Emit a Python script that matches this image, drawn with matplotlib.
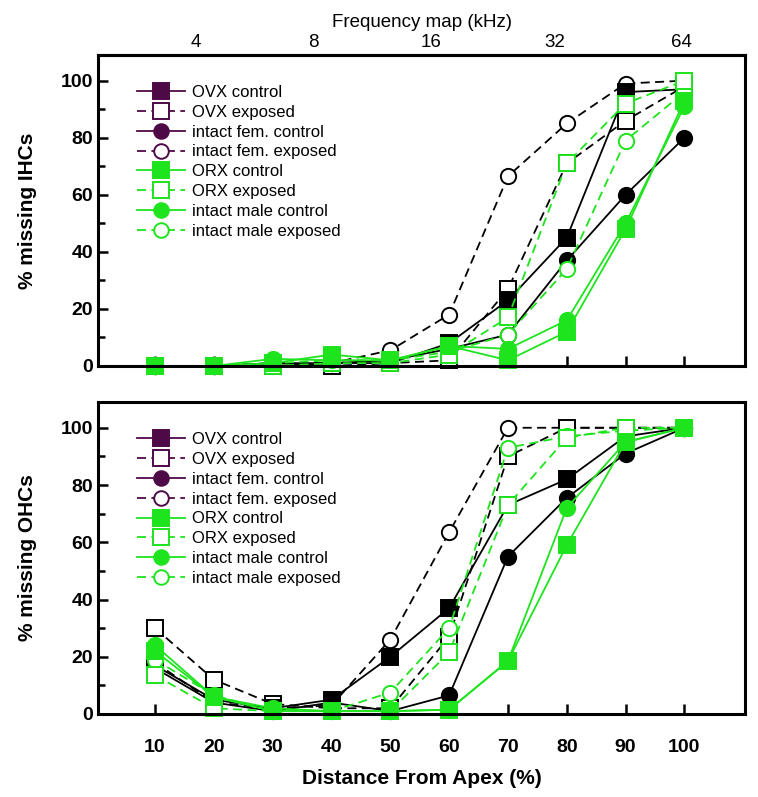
import matplotlib
matplotlib.use("Agg")
import matplotlib.pyplot as plt
from matplotlib.lines import Line2D

plt.rcParams['font.family'] = ['Liberation Sans', 'DejaVu Sans']

distance = [10, 20, 30, 40, 50, 60, 70, 80, 90, 100]
freq_labels = ['4', '8', '16', '32', '64']
freq_pos = [17, 37, 57, 78, 99.5]

series_names = ['OVX control', 'OVX exposed', 'intact fem. control', 'intact fem. exposed',
                'ORX control', 'ORX exposed', 'intact male control', 'intact male exposed']

# IHC (top panel)
ihc_ovx_control = [0, 0, 0, 1, 1, 8, 23, 45, 96, 97]
ihc_ovx_exposed = [0, 0, 0, 0, 1, 2, 27, 71, 86, 98]
ihc_fem_control = [0, 0, 1, 1, 2, 6, 11, 37, 60, 80]
ihc_fem_exposed = [0, 0, 1, 1, 5.5, 18, 66.5, 85, 99, 100]
ihc_orx_control = [0, 0, 1, 4, 2, 7, 2, 12, 48, 93]
ihc_orx_exposed = [0, 0, 0, 1, 1, 4, 17, 71, 92, 100]
ihc_male_control = [0, 0, 2.5, 2, 2, 7, 6, 16, 50, 91]
ihc_male_exposed = [0, 0, 1, 2, 2, 5, 11, 34, 79, 96]

# OHC (bottom panel)
ohc_ovx_control = [17, 5, 2, 5, 20, 37, 73, 82, 97, 100]
ohc_ovx_exposed = [30, 12, 3.5, 2, 2, 27, 90, 100, 100, 100]
ohc_fem_control = [16, 4, 1, 4, 1, 6.5, 55, 75.5, 91, 100]
ohc_fem_exposed = [18, 4, 2, 3, 26, 63.5, 100, 100, 100, 100]
ohc_orx_control = [22, 6, 1, 1, 1, 1.5, 18.5, 59, 95, 100]
ohc_orx_exposed = [13.5, 2, 1, 1, 1, 21.5, 73, 96.5, 100, 100]
ohc_male_control = [24, 6, 2, 1, 1, 1.5, 18.5, 72, 95, 100]
ohc_male_exposed = [19, 6.5, 1, 1, 7.5, 30, 93, 97, 99, 100]

ihc_data = [ihc_ovx_control, ihc_ovx_exposed, ihc_fem_control, ihc_fem_exposed,
            ihc_orx_control, ihc_orx_exposed, ihc_male_control, ihc_male_exposed]
ohc_data = [ohc_ovx_control, ohc_ovx_exposed, ohc_fem_control, ohc_fem_exposed,
            ohc_orx_control, ohc_orx_exposed, ohc_male_control, ohc_male_exposed]

BLACK = '#000000'
GREEN = '#1de41d'
PURPLE = '#4e0a46'
DASH = (0, (5, 3))

styles = [
    dict(color=BLACK, marker='s', filled=True, ls='-', z=4),
    dict(color=BLACK, marker='s', filled=False, ls=DASH, z=3.2),
    dict(color=BLACK, marker='o', filled=True, ls='-', z=3.8),
    dict(color=BLACK, marker='o', filled=False, ls=DASH, z=3.0),
    dict(color=GREEN, marker='s', filled=True, ls='-', z=5),
    dict(color=GREEN, marker='s', filled=False, ls=DASH, z=4.4),
    dict(color=GREEN, marker='o', filled=True, ls='-', z=4.8),
    dict(color=GREEN, marker='o', filled=False, ls=DASH, z=4.2),
]
legend_colors = [PURPLE, PURPLE, PURPLE, PURPLE, GREEN, GREEN, GREEN, GREEN]

W, H = 758, 797
fig = plt.figure(figsize=(W / 100, H / 100), dpi=100)
left, right = 98 / W, 745 / W
ax_top = fig.add_axes([left, 1 - 366 / H, right - left, 311 / H])
ax_bot = fig.add_axes([left, 1 - 714 / H, right - left, 312 / H])


def draw(ax, data):
    for vals, st in zip(data, styles):
        ms = 11.5 if st['marker'] == 's' else 11
        ax.plot(distance, vals, color=st['color'], ls=st['ls'], lw=1.3,
                marker=st['marker'], markersize=ms,
                markerfacecolor=st['color'] if st['filled'] else 'white',
                markeredgecolor=st['color'], markeredgewidth=1.4,
                clip_on=False, zorder=st['z'])
    ax.set_xlim(0.3, 110.3)
    ax.set_ylim(0, 109)
    ax.set_xticks(distance)
    ax.set_yticks([0, 20, 40, 60, 80, 100])
    ax.set_yticks([10, 30, 50, 70, 90], minor=True)
    ax.tick_params(axis='both', which='major', direction='in', length=7, width=1.8,
                   labelsize=14)
    ax.tick_params(axis='y', which='minor', direction='in', length=5, width=1.8)
    for lab in ax.get_yticklabels() + ax.get_xticklabels():
        lab.set_fontweight('bold')
    for sp in ax.spines.values():
        sp.set_linewidth(2.2)
        sp.set_zorder(6)
    handles = []
    for st, c in zip(styles, legend_colors):
        handles.append(Line2D([], [], color=c, ls=st['ls'], lw=1.3, marker=st['marker'],
                              markersize=11 if st['marker'] == 's' else 10.5,
                              markerfacecolor=c if st['filled'] else 'white',
                              markeredgecolor=c, markeredgewidth=1.4))
    leg = ax.legend(handles, series_names, loc='upper left', bbox_to_anchor=(0.05, 0.925),
                    frameon=False, fontsize=12, handlelength=2.9, labelspacing=0.29,
                    handletextpad=0.4, borderaxespad=0)
    leg.set_zorder(7)


draw(ax_top, ihc_data)
draw(ax_bot, ohc_data)

ax_top.tick_params(axis='x', labelbottom=False)
ax_top.set_ylabel('% missing IHCs', fontsize=15, fontweight='bold', labelpad=17)
ax_bot.set_ylabel('% missing OHCs', fontsize=15, fontweight='bold', labelpad=17)
ax_bot.set_xlabel('Distance From Apex (%)', fontsize=15, fontweight='bold', labelpad=9)
ax_bot.tick_params(axis='x', pad=18)

sec = ax_top.secondary_xaxis('top')
sec.set_xticks(freq_pos)
sec.set_xticklabels(freq_labels)
sec.tick_params(length=0, labelsize=13.5, pad=3)
sec.set_xlabel('Frequency map (kHz)', fontsize=13.5, labelpad=5)
sec.spines['top'].set_linewidth(2.2)

fig.savefig('out.png', dpi=100)
